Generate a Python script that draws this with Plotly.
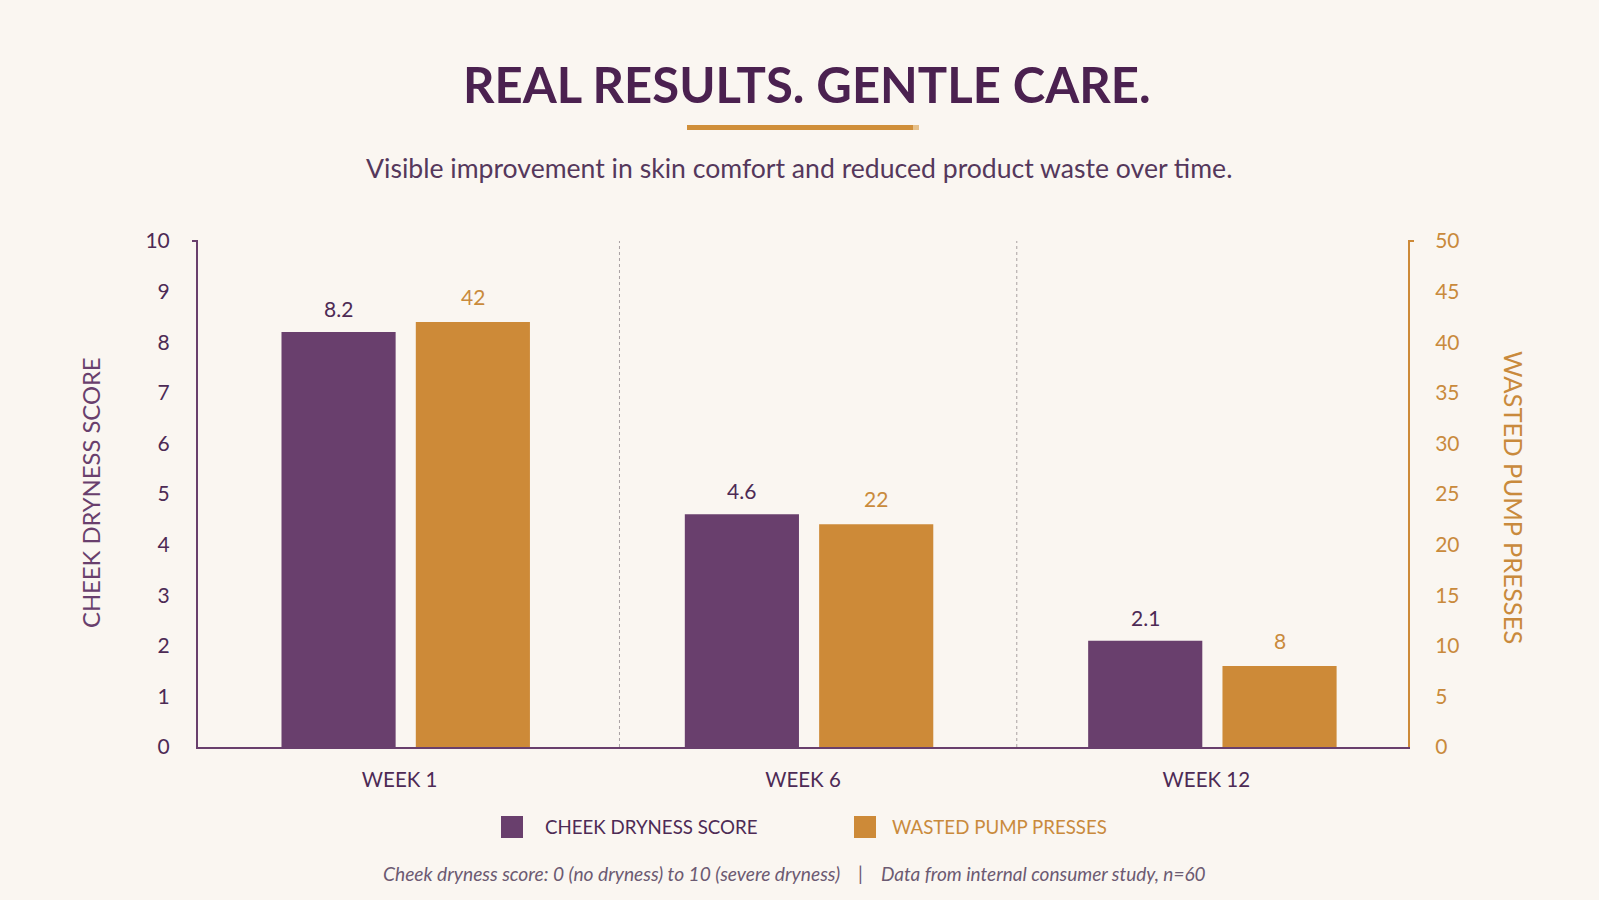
import plotly.graph_objects as go

# ---- data ----
categories = ["WEEK 1", "WEEK 6", "WEEK 12"]
dryness = [8.2, 4.6, 2.1]
pumps = [42, 22, 8]
dryness_name = "CHEEK DRYNESS SCORE"
pumps_name = "WASTED PUMP PRESSES"
left_ticks = list(range(0, 11))
right_ticks = list(range(0, 51, 5))

title_text = "REAL RESULTS. GENTLE CARE."
subtitle_text = "Visible improvement in skin comfort and reduced product waste over time."
footnote_left = "Cheek dryness score: 0 (no dryness) to 10 (severe dryness)"
footnote_right = "Data from internal consumer study, n=60"

# ---- style ----
W, H = 1599, 900
L, R, T, B = 198, 1408, 241, 747
BG = "#faf6f1"
PURPLE = "#693f6d"
PURPLE_TXT = "#4d2a55"
TITLE = "#4b2150"
ORANGE = "#cd8a38"
ORANGE_TXT = "#c98a3c"
FONT = "Lato"

def px(x):
    return (x - L) / (R - L)

def py(y):
    return (B - y) / (B - T)

BAR_W = 0.283
OFF_A = -0.293
OFF_B = 0.04

fig = go.Figure()
fig.add_bar(x=categories, y=dryness, name=dryness_name, marker_color=PURPLE,
            marker_line_width=0, width=BAR_W, offset=OFF_A, yaxis="y", showlegend=False)
fig.add_bar(x=categories, y=pumps, name=pumps_name, marker_color=ORANGE,
            marker_line_width=0, width=BAR_W, offset=OFF_B, yaxis="y2", showlegend=False)

annotations = []
# value labels
for i, v in enumerate(dryness):
    annotations.append(dict(x=i + OFF_A + BAR_W / 2, y=v, xref="x", yref="y", text=f"{v}",
                            showarrow=False, yanchor="bottom", yshift=9,
                            font=dict(family=FONT, size=21, color=PURPLE_TXT)))
for i, v in enumerate(pumps):
    annotations.append(dict(x=i + OFF_B + BAR_W / 2, y=v, xref="x", yref="y2", text=f"{v}",
                            showarrow=False, yanchor="bottom", yshift=11,
                            font=dict(family=FONT, size=21, color=ORANGE_TXT)))

# title, subtitle
annotations.append(dict(x=px(807), y=py(84), xref="paper", yref="paper", text=f"<b>{title_text}</b>",
                        showarrow=False, xanchor="center", yanchor="middle",
                        font=dict(family=FONT, size=49, color=TITLE)))
annotations.append(dict(x=px(799), y=py(168), xref="paper", yref="paper", text=subtitle_text,
                        showarrow=False, xanchor="center", yanchor="middle",
                        font=dict(family=FONT, size=26.6, color="#55385c")))
# axis titles
annotations.append(dict(x=px(91), y=py(493), xref="paper", yref="paper", text=dryness_name,
                        showarrow=False, textangle=-90, xanchor="center", yanchor="middle",
                        font=dict(family=FONT, size=23.8, color=PURPLE)))
annotations.append(dict(x=px(1514), y=py(497), xref="paper", yref="paper", text=pumps_name,
                        showarrow=False, textangle=90, xanchor="center", yanchor="middle",
                        font=dict(family=FONT, size=25.5, color=ORANGE_TXT)))
# legend
annotations.append(dict(x=px(543), y=py(827), xref="paper", yref="paper", text=dryness_name,
                        showarrow=False, xanchor="left", yanchor="middle",
                        font=dict(family=FONT, size=18.7, color=PURPLE_TXT)))
annotations.append(dict(x=px(890), y=py(827), xref="paper", yref="paper", text=pumps_name,
                        showarrow=False, xanchor="left", yanchor="middle",
                        font=dict(family=FONT, size=18.7, color=ORANGE_TXT)))
# footnote
annotations.append(dict(x=px(842), y=py(873), xref="paper", yref="paper", text=f"<i>{footnote_left}</i>",
                        showarrow=False, xanchor="right", yanchor="middle",
                        font=dict(family=FONT, size=19.2, color="#6c5a72")))
annotations.append(dict(x=px(860), y=py(873), xref="paper", yref="paper", text="|",
                        showarrow=False, xanchor="center", yanchor="middle",
                        font=dict(family=FONT, size=19, color="#6c5a72")))
annotations.append(dict(x=px(879), y=py(873), xref="paper", yref="paper", text=f"<i>{footnote_right}</i>",
                        showarrow=False, xanchor="left", yanchor="middle",
                        font=dict(family=FONT, size=19, color="#6c5a72")))

shapes = []
# separators between weeks
for sx in (0.545, 1.53):
    shapes.append(dict(type="line", xref="x", yref="paper", x0=sx, x1=sx, y0=0, y1=1,
                       line=dict(color="#a9a1a3", width=1, dash="dot"), layer="below"))
# small caps at top of y axes
shapes.append(dict(type="line", xref="paper", yref="paper", x0=px(L - 6), x1=px(L), y0=1, y1=1,
                   line=dict(color=PURPLE, width=2)))
shapes.append(dict(type="line", xref="paper", yref="paper", x0=px(R), x1=px(R + 6), y0=1, y1=1,
                   line=dict(color=ORANGE, width=2)))
# title underline
shapes.append(dict(type="rect", xref="paper", yref="paper", x0=px(687), x1=px(913),
                   y0=py(130), y1=py(125), fillcolor="#d08f3a", line_width=0))
shapes.append(dict(type="rect", xref="paper", yref="paper", x0=px(913), x1=px(919),
                   y0=py(130), y1=py(125), fillcolor="#e6c08a", line_width=0))
# legend squares
shapes.append(dict(type="rect", xref="paper", yref="paper", x0=px(501), x1=px(523),
                   y0=py(838), y1=py(816), fillcolor=PURPLE, line_width=0))
shapes.append(dict(type="rect", xref="paper", yref="paper", x0=px(854), x1=px(876),
                   y0=py(838), y1=py(816), fillcolor=ORANGE, line_width=0))

fig.update_layout(
    width=W, height=H,
    margin=dict(l=L, r=W - R, t=T, b=H - B, pad=0),
    paper_bgcolor=BG, plot_bgcolor=BG,
    barmode="overlay",
    showlegend=False,
    annotations=annotations,
    shapes=shapes,
    xaxis=dict(type="category", range=[-0.5, 2.5], showline=True, linecolor=PURPLE, linewidth=2,
               ticks="", showgrid=False, zeroline=False, ticklabelstandoff=13,
               tickfont=dict(family=FONT, size=20.5, color=PURPLE_TXT)),
    yaxis=dict(range=[0, 10], tickvals=left_ticks, showline=True, linecolor=PURPLE, linewidth=2,
               ticks="", showgrid=False, zeroline=False, ticklabelstandoff=22,
               tickfont=dict(family=FONT, size=21, color=PURPLE_TXT)),
    yaxis2=dict(range=[0, 50], tickvals=right_ticks, overlaying="y", side="right",
                showline=True, linecolor=ORANGE, linewidth=2, ticks="", showgrid=False,
                zeroline=False, ticklabelstandoff=21,
                tickfont=dict(family=FONT, size=21, color=ORANGE_TXT)),
    font=dict(family=FONT),
)

fig.write_html("out.html")
